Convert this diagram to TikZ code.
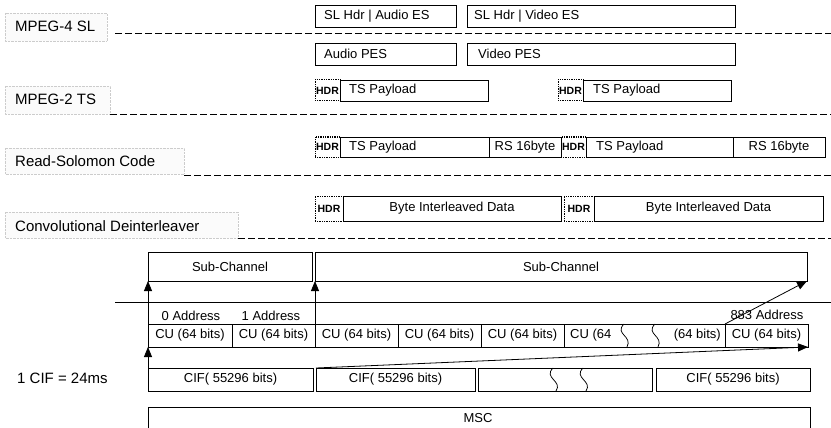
\documentclass[tikz,border=0pt]{standalone}
\usepackage{fontspec}
\setmainfont{Liberation Sans}
\usetikzlibrary{arrows.meta}
\newcommand\mkbox[7][]{\node[bx,#1,minimum width={#5-#3},minimum height={#6-#4}] (#2) at (#3,#4) {#7};}
\begin{document}
\begin{tikzpicture}[x=1pt,y=-1pt,
 bx/.style={draw, line width=0.75pt, inner sep=0pt, outer sep=0pt, anchor=north west, font=\fontsize{13}{15}\selectfont},
 hdr/.style={densely dotted, line width=1pt, font=\fontsize{10.5}{12}\selectfont\bfseries},
 lbl/.style={draw=gray!40, densely dotted, line width=0.4pt, fill=gray!3},
 ltxt/.style={anchor=west, font=\fontsize{15}{17}\selectfont, inner sep=0pt},
 sep/.style={dash pattern=on 7pt off 3pt, line width=0.8pt},
 tip/.style={-{Triangle[length=10pt,width=8pt]}, line width=0.8pt},
 btxt/.style={anchor=west, font=\fontsize{13}{15}\selectfont, inner sep=0pt},
 etxt/.style={anchor=east, font=\fontsize{13}{15}\selectfont, inner sep=0pt},
 ctxt/.style={font=\fontsize{13}{15}\selectfont, inner sep=0pt},
 sq/.style={line width=0.75pt}]
\useasboundingbox (0,0) rectangle (831,428);
% left labels
\draw[lbl] (5,13) rectangle (107,41);
\draw[lbl] (5,86) rectangle (110,114);
\draw[lbl] (5,148) rectangle (184,174);
\draw[lbl] (5,212) rectangle (238,238);
\node[ltxt] (l1) at (15,26) {MPEG-4 SL};
\node[ltxt] (l2) at (15,99) {MPEG-2 TS};
\node[ltxt] (l3) at (15,161) {Read-Solomon Code};
\node[ltxt] (l4) at (15,226) {Convolutional Deinterleaver};
% separators
\draw[sep] (115,33) -- (831,33);
\draw[sep] (110,114) -- (831,114);
\draw[sep] (184,175) -- (831,175);
\draw[sep] (238,238) -- (831,238);
% MPEG-4 SL row
\mkbox{sla}{315}{5}{456}{27}{}
\node[btxt] (slat) at ([xshift=9pt]sla.west) {SL Hdr | Audio ES};
\mkbox{slv}{467}{5}{735}{27}{}
\node[btxt] (slvt) at ([xshift=7pt]slv.west) {SL Hdr | Video ES};
% PES row
\mkbox{apes}{315}{43}{456}{65}{}
\node[btxt] (apest) at ([xshift=9pt]apes.west) {Audio PES};
\mkbox{vpes}{467}{43}{735}{65}{}
\node[btxt] (vpest) at ([xshift=11pt]vpes.west) {Video PES};
% TS row
\mkbox[hdr]{h1}{315}{80}{340}{101}{HDR}
\mkbox{p1}{340}{80}{488}{101}{}
\node[btxt] (p1t) at ([xshift=9pt]p1.west) {TS Payload};
\mkbox[hdr]{h2}{558}{80}{583}{101}{HDR}
\mkbox{p2}{583}{80}{731}{101}{}
\node[btxt] (p2t) at ([xshift=10pt]p2.west) {TS Payload};
% RS row
\mkbox[hdr]{h3}{315}{137}{340}{157}{HDR}
\mkbox{p3}{340}{137}{489}{157}{}
\node[btxt] (p3t) at ([xshift=9pt]p3.west) {TS Payload};
\mkbox{r1}{489}{137}{561}{157}{RS 16byte}
\mkbox[hdr]{h4}{561}{137}{586}{157}{HDR}
\mkbox{p4}{586}{137}{733}{157}{}
\node[btxt] (p4t) at ([xshift=10pt]p4.west) {TS Payload};
\mkbox{r2}{733}{137}{825}{157}{RS 16byte}
% Convolutional row
\mkbox[hdr]{h5}{315}{196}{343}{221}{HDR}
\mkbox{b1}{343}{196}{561}{221}{Byte Interleaved Data}
\mkbox[hdr]{h6}{564}{196}{594}{221}{HDR}
\mkbox{b2}{594}{196}{823}{221}{Byte Interleaved Data}
% Sub-channels
\mkbox{s1}{148}{252}{312}{281}{Sub-Channel}
\mkbox{s2}{315}{252}{807}{281}{Sub-Channel}
\draw[line width=0.75pt] (115,302) -- (831,302);
% addresses
\node[ctxt] (a0) at (191,316) {0 Address};
\node[ctxt] (a1) at (271,316) {1 Address};
\node[ctxt] (a883) at (767,315) {883 Address};
% CU row
\mkbox{c1}{148}{324}{232}{347}{CU (64 bits)}
\mkbox{c2}{232}{324}{315}{347}{CU (64 bits)}
\mkbox{c3}{315}{324}{398}{347}{CU (64 bits)}
\mkbox{c4}{398}{324}{481}{347}{CU (64 bits)}
\mkbox{c5}{481}{324}{564}{347}{CU (64 bits)}
\mkbox{c6}{564}{324}{725}{347}{}
\node[btxt] (c6a) at ([xshift=6pt]c6.west) {CU (64};
\node[etxt] (c6b) at ([xshift=-4pt]c6.east) {(64 bits)};
\mkbox{c7}{725}{324}{808}{347}{CU (64 bits)}
\draw[sq] (624,324) .. controls (614,334) and (633,336) .. (627,347);
\draw[sq] (655,324) .. controls (645,334) and (664,336) .. (658,347);
% CIF row
\node[ctxt, anchor=west, font=\fontsize{15}{17}\selectfont] (cifl) at (17,378) {1 CIF = 24ms};
\mkbox{f1}{148}{368}{313}{391}{CIF( 55296 bits)}
\mkbox{f2}{316}{368}{475}{391}{CIF( 55296 bits)}
\mkbox{f3}{478}{368}{652}{391}{}
\mkbox{f4}{656}{368}{810}{391}{CIF( 55296 bits)}
\draw[sq] (553,368) .. controls (543,378) and (563,381) .. (556,391);
\draw[sq] (583,368) .. controls (573,378) and (593,381) .. (586,391);
% MSC
\draw[line width=0.75pt] (148,428) -- (148,407) -- (810,407) -- (810,428);
\node[ctxt] (msc) at (478,418) {MSC};
% arrows
\draw[tip] (c1.north west) -- (s1.south west);
\draw[tip] (c3.north west) -- (s2.south west);
\draw[tip] (f1.north west) -- (c1.south west);
\draw[tip] (f2.north west) -- (c7.south east);
\draw[tip] (c7.north west) -- (s2.south east);
\end{tikzpicture}
\end{document}
